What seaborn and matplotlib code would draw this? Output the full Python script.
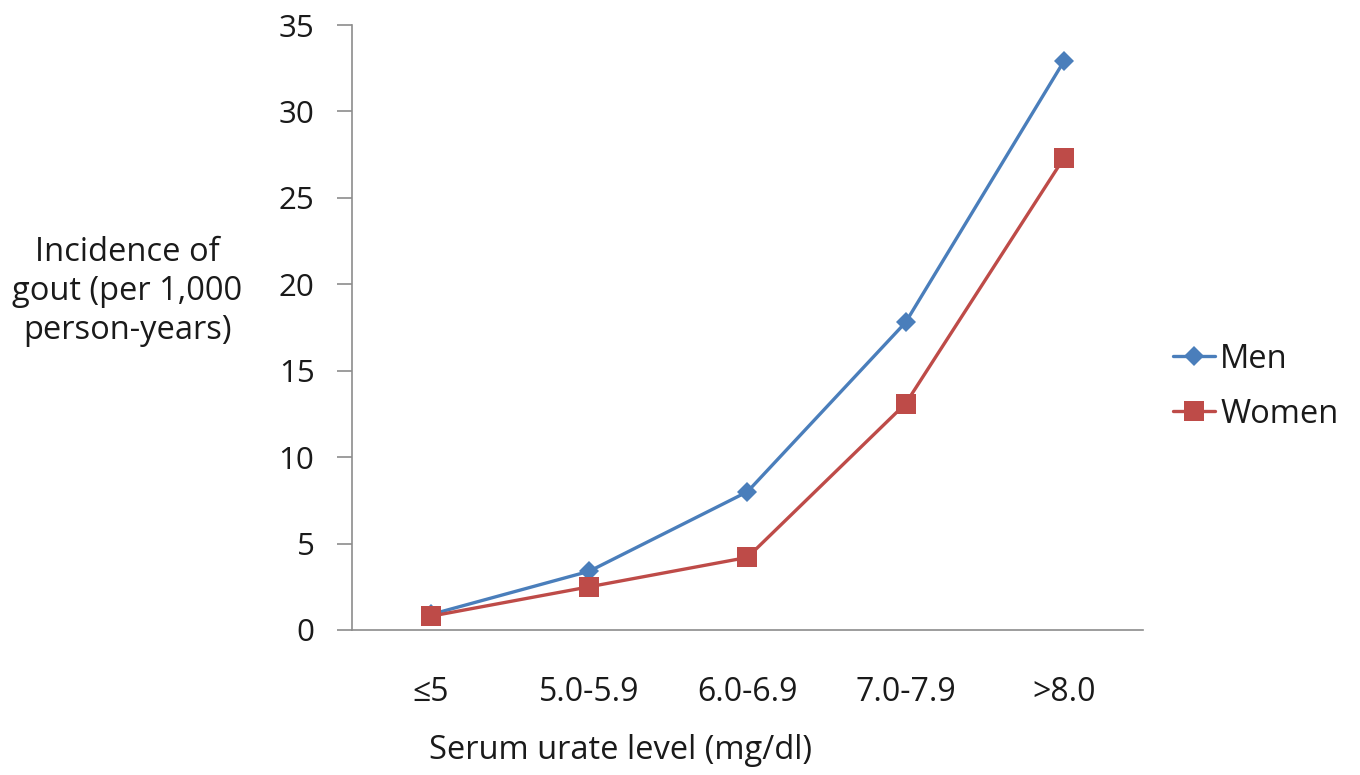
import matplotlib
matplotlib.use('Agg')
import matplotlib.pyplot as plt
import seaborn as sns
import pandas as pd

# ── data ───────────────────────────────────────────────────────────────────
CATEGORIES = ['≤5', '5.0-5.9', '6.0-6.9', '7.0-7.9', '>8.0']
MEN        = [0.9, 3.4, 8.0, 17.8, 32.9]
WOMEN      = [0.8, 2.5, 4.2, 13.1, 27.3]
Y_TICKS    = [0, 5, 10, 15, 20, 25, 30, 35]

BLUE  = '#4A7EBB'
RED   = '#BE4B48'
GREY  = '#8C8C8C'
TEXT  = '#1a1a1a'

sns.set_style('white')
plt.rcParams['font.family'] = ['Open Sans', 'DejaVu Sans']

men_df   = pd.DataFrame({'level': CATEGORIES, 'rate': MEN})
women_df = pd.DataFrame({'level': CATEGORIES, 'rate': WOMEN})

fig = plt.figure(figsize=(13.6, 7.75), dpi=100)
ax = fig.add_axes([0.2588, 0.1871, 0.5816, 0.7806])

sns.lineplot(data=men_df, x='level', y='rate', ax=ax, sort=False,
             color=BLUE, linewidth=2.4, marker='D', markersize=10,
             markeredgewidth=0, label='Men')
sns.lineplot(data=women_df, x='level', y='rate', ax=ax, sort=False,
             color=RED, linewidth=2.4, marker='s', markersize=14,
             markeredgewidth=0, label='Women')

# axes styling (Excel look)
ax.set_xlim(-0.5, len(CATEGORIES) - 0.5)
ax.set_ylim(0, 35)
ax.set_yticks(Y_TICKS)
ax.set_xticks(range(len(CATEGORIES)))
ax.set_xticklabels(CATEGORIES)
ax.set_xticks([i - 0.5 for i in range(len(CATEGORIES) + 1)], minor=True)
ax.tick_params(axis='x', which='major', length=0, pad=33, labelsize=23, labelcolor=TEXT)
ax.tick_params(axis='x', which='minor', length=11, width=1.2, color=GREY, direction='out')
ax.tick_params(axis='y', length=11, width=1.2, color=GREY, direction='out',
               pad=16, labelsize=22.5, labelcolor=TEXT, left=True)
for side in ['top', 'right']:
    ax.spines[side].set_visible(False)
for side in ['left', 'bottom']:
    ax.spines[side].set_color(GREY)
    ax.spines[side].set_linewidth(1.2)
ax.set_xlabel('')
ax.set_ylabel('')
ax.grid(False)

fig.text(0.0934, 0.624, 'Incidence of\ngout (per 1,000\nperson-years)',
         ha='center', va='center', fontsize=23.5, color=TEXT, linespacing=1.25)
fig.text(0.456, 0.032, 'Serum urate level (mg/dl)',
         ha='center', va='center', fontsize=23.5, color=TEXT)

leg = ax.legend(loc='center left', bbox_to_anchor=(0.8625, 0.501),
                bbox_transform=fig.transFigure, frameon=False,
                fontsize=23.5, handlelength=1.3, handletextpad=0.15,
                labelspacing=0.68, borderaxespad=0, borderpad=0)
for t in leg.get_texts():
    t.set_color(TEXT)

fig.savefig('out.png', dpi=100)
plt.close(fig)
